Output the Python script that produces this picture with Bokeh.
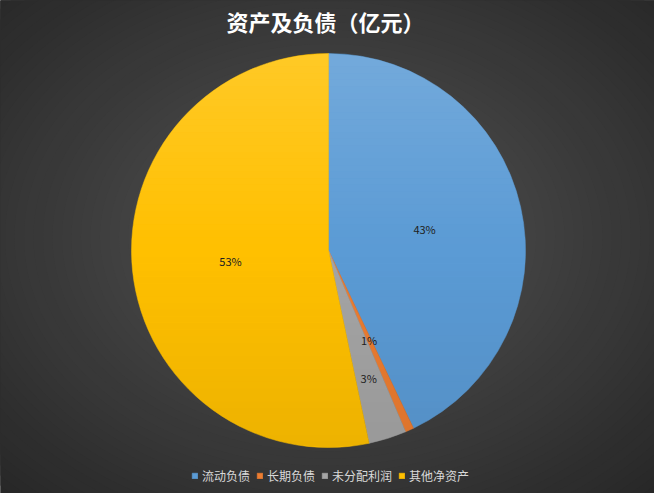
import numpy as np
from bokeh.plotting import figure
from bokeh.models import ColumnDataSource, Legend, LegendItem, Range1d
from bokeh.embed import file_html
from bokeh.resources import INLINE
from bokeh.core.properties import value

title = "资产及负债（亿元）"
categories = ["流动负债", "长期负债", "未分配利润", "其他净资产"]
values = [42.9, 0.7, 3.1, 53.3]
colors = ["#5b9bd5", "#ed7d31", "#a5a5a5", "#ffc000"]
label_radius = [0.5, 0.5, 0.68, 0.5]

W, H = 654, 493
FONT = "Noto Sans CJK SC"

p = figure(width=W, height=H, x_range=Range1d(0, W), y_range=Range1d(0, H),
           output_backend="svg", toolbar_location=None, min_border=0,
           x_axis_type=None, y_axis_type=None)
p.outline_line_color = None
p.background_fill_color = "#282828"
p.border_fill_color = "#282828"

# radial background gradient
c_in = np.array([0x55, 0x55, 0x55], dtype=float)
c_out = np.array([0x27, 0x27, 0x27], dtype=float)
ts = np.linspace(1.0, 0.02, 50)
bg_cols = []
for t in ts:
    c = c_in + (c_out - c_in) * t
    bg_cols.append("#%02x%02x%02x" % tuple(int(round(v)) for v in c))
p.ellipse(x=W / 2, y=H / 2 + 10, width=list(W * 1.45 * ts), height=list(H * 1.45 * ts),
          fill_color=bg_cols, line_color=None)

# pie
cx, cy, R = 328, H - 250, 197
vals = np.array(values, dtype=float)
frac = vals / vals.sum()
cum = np.concatenate([[0.0], np.cumsum(frac)])
start = np.pi / 2 - cum[:-1] * 2 * np.pi
end = np.pi / 2 - cum[1:] * 2 * np.pi
src = ColumnDataSource(dict(start=start, end=end, color=colors, label=categories))
wr = p.wedge(x=cx, y=cy, radius=R, start_angle="start", end_angle="end",
             direction="clock", fill_color="color", line_color="color",
             line_width=0.5, source=src)

# vertical shading over the pie
nb = 60
edges = np.linspace(cy + R, cy - R, nb + 1)
bxs, bys, bcol, balpha = [], [], [], []
for i in range(nb):
    y1, y2 = edges[i], edges[i + 1]
    yy = np.linspace(y1, y2, 4)
    half = np.sqrt(np.clip(R ** 2 - (yy - cy) ** 2, 0, None))
    bxs.append(list(cx + half) + list(cx - half[::-1]))
    bys.append(list(yy) + list(yy[::-1]))
    ym = (y1 + y2) / 2
    s = (ym - cy) / R
    if s >= 0:
        bcol.append("#ffffff"); balpha.append(0.15 * s)
    else:
        bcol.append("#000000"); balpha.append(0.07 * (-s))
p.patches(xs=bxs, ys=bys, fill_color=bcol, fill_alpha=balpha, line_color=None)

# data labels
mid = (start + end) / 2
lr = np.array(label_radius)
lx = cx + lr * R * np.cos(mid)
ly = cy + lr * R * np.sin(mid)
pct = ["%d%%" % round(f * 100) for f in frac]
p.text(x=list(lx), y=list(ly), text=pct, text_font=value(FONT), text_font_size="11px",
       text_color="#202020", text_align="center", text_baseline="middle")

# title
p.text(x=[325], y=[H - 20], text=[title], text_font=value(FONT),
       text_font_size="22px", text_font_style="bold", text_color="#ffffff",
       text_align="center", text_baseline="middle")

items = [LegendItem(label=categories[i], renderers=[wr], index=i) for i in range(len(categories))]
legend = Legend(items=items, orientation="horizontal", location=(191, 9),
                glyph_width=7, glyph_height=7, label_standoff=4, spacing=6,
                padding=0, margin=0, background_fill_alpha=0, border_line_alpha=0,
                label_text_font=FONT, label_text_font_size="12px",
                label_text_color="#d9d9d9", label_height=16)
p.add_layout(legend, "center")

open("out.html", "w").write(file_html(p, INLINE))
